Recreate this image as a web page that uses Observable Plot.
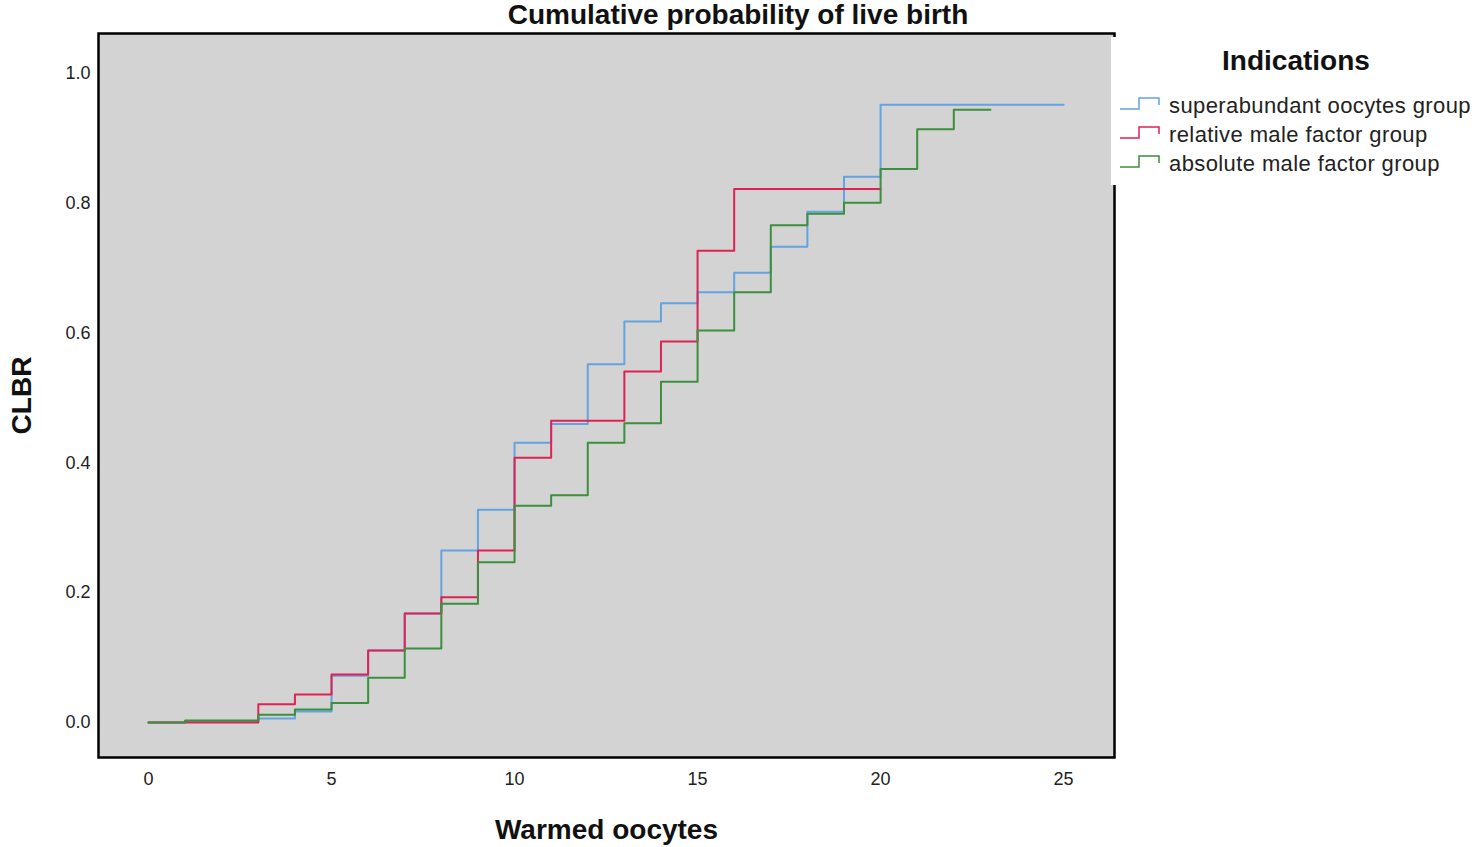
<!DOCTYPE html>
<html>
<head>
<meta charset="utf-8">
<script src="https://cdn.jsdelivr.net/npm/d3@7"></script>
<script src="https://cdn.jsdelivr.net/npm/@observablehq/plot@0.6"></script>
<style>
  body { margin: 0; background: #fff; font-family: "Liberation Sans", Arial, sans-serif; }
  #wrap { position: relative; width: 1476px; height: 847px; overflow: hidden; }
  #title { position: absolute; left: 0; top: 0; width: 1476px; text-align: center; font-weight: bold; font-size: 28px; line-height: 30px; color: #111; z-index: 2; }
  #legend { position: absolute; left: 1111px; top: 37px; width: 365px; height: 148px; background: #fff; z-index: 2; }
  #legend .lt { position: absolute; left: 0; width: 370px; top: 8px; text-align: center; font-weight: bold; font-size: 28px; line-height: 32px; color: #111; }
  #legend .row { position: absolute; left: 8px; height: 28px; display: flex; align-items: center; font-size: 22px; color: #222; letter-spacing: 0.4px; white-space: nowrap; }
  #legend svg { margin-right: 6px; }
  #chart { position: absolute; left: 0; top: 0; }
</style>
</head>
<body>
<div id="wrap">
  <div id="title">Cumulative probability of live birth</div>
  <div id="chart"></div>
  <div id="legend"></div>
</div>
<script>
// Warmed oocytes (x positions of the steps)
const warmed = [0,1,2,3,4,5,6,7,8,9,10,11,12,13,14,15,16,17,18,19,20,21,22,23,24,25];

// Series names and colors
const groups = ["superabundant oocytes group", "relative male factor group", "absolute male factor group"];
const colors = ["#64a3e2", "#de2254", "#3c8f3c"];

// CLBR values per warmed oocyte count
const superabundant = [0,0.002,0.002,0.006,0.017,0.072,0.111,0.168,0.265,0.328,0.431,0.460,0.552,0.618,0.646,0.663,0.693,0.733,0.787,0.841,0.952,0.952,0.952,0.952,0.952,0.952];
const relativeMale  = [0,0,0,0.028,0.043,0.074,0.111,0.168,0.193,0.265,0.408,0.465,0.465,0.541,0.587,0.727,0.822,0.822,0.822,0.822,0.822];
const absoluteMale  = [0,0.003,0.003,0.012,0.020,0.030,0.069,0.114,0.183,0.247,0.334,0.350,0.431,0.461,0.525,0.604,0.663,0.766,0.784,0.801,0.853,0.914,0.944,0.944];

// Axis ticks
const xTicks = [0,5,10,15,20,25];
const yTicks = [0,0.2,0.4,0.6,0.8,1.0];

const seriesValues = [superabundant, relativeMale, absoluteMale];
const rows = [];
seriesValues.forEach((vals, i) => {
  vals.forEach((v, j) => rows.push({group: groups[i], x: warmed[j], y: v}));
});

const chart = Plot.plot({
  width: 1476,
  height: 847,
  marginLeft: 98,
  marginRight: 362,
  marginTop: 33,
  marginBottom: 90,
  style: {fontFamily: "'Liberation Sans', Arial, sans-serif", background: "transparent", color: "#222"},
  x: {domain: [-1.366, 26.39]},
  y: {domain: [-0.0539, 1.0616]},
  color: {domain: groups, range: colors},
  marks: [
    Plot.frame({fill: "#d3d3d3"}),
    Plot.axisX({ticks: xTicks, tickSize: 0, tickPadding: 15, fontSize: 18, label: null, fill: "#222"}),
    Plot.axisY({ticks: yTicks, tickSize: 0, tickPadding: 8, fontSize: 18, tickFormat: d3.format(".1f"), label: null, fill: "#222"}),
    Plot.line(rows, {x: "x", y: "y", z: "group", stroke: "group", curve: "step-after", strokeWidth: 2}),
    Plot.frame({stroke: "#000", strokeWidth: 2.5}),
    Plot.text(["Warmed oocytes"], {frameAnchor: "bottom", lineAnchor: "middle", dy: 73, fontSize: 28, fontWeight: "bold", fill: "#111"}),
    Plot.text(["CLBR"], {frameAnchor: "left", textAnchor: "middle", lineAnchor: "middle", dx: -76, rotate: -90, fontSize: 28, fontWeight: "bold", fill: "#111"})
  ]
});
document.getElementById("chart").appendChild(chart);

// Legend
const legend = document.getElementById("legend");
const lt = document.createElement("div");
lt.className = "lt";
lt.textContent = "Indications";
legend.appendChild(lt);
groups.forEach((g, i) => {
  const row = document.createElement("div");
  row.className = "row";
  row.style.top = (55 + i * 29) + "px";
  row.innerHTML = `<svg width="44" height="20"><path d="M1,13 H20 V2 H40 V9" fill="none" stroke="${colors[i]}" stroke-width="1.5"/></svg><span>${g}</span>`;
  legend.appendChild(row);
});
</script>
</body>
</html>
